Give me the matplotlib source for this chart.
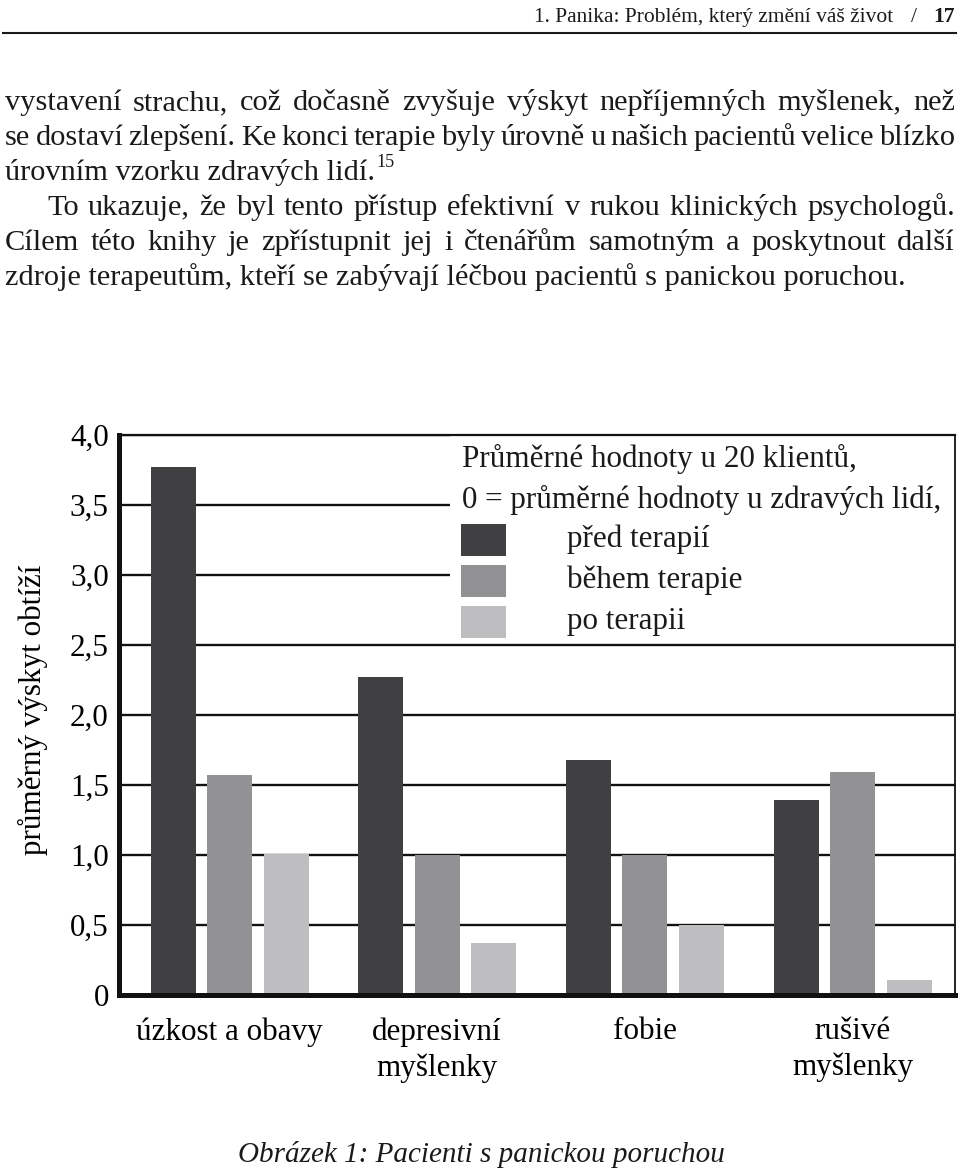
import matplotlib
matplotlib.use('Agg')
import matplotlib.pyplot as plt
import numpy as np
from matplotlib.patches import Rectangle
from matplotlib.lines import Line2D

# ---------------- data ----------------
categories = ['úzkost a obavy', 'depresivní\nmyšlenky', 'fobie', 'rušivé\nmyšlenky']
series_names = ['před terapií', 'během terapie', 'po terapii']
before_therapy = [3.77, 2.27, 1.68, 1.39]
during_therapy = [1.57, 1.00, 1.00, 1.59]
after_therapy = [1.01, 0.37, 0.50, 0.11]
ytick_values = [0, 0.5, 1.0, 1.5, 2.0, 2.5, 3.0, 3.5, 4.0]
ytick_labels = ['0', '0,5', '1,0', '1,5', '2,0', '2,5', '3,0', '3,5', '4,0']
ylabel_text = 'průměrný výskyt obtíží'
legend_title_lines = ['Průměrné hodnoty u 20 klientů,', '0 = průměrné hodnoty u zdravých lidí,']
caption_text = 'Obrázek 1: Pacienti s panickou poruchou'
header_text = '1. Panika: Problém, který změní váš život'
header_page = '17'
paragraph_lines = [
    'vystavení strachu, což dočasně zvyšuje výskyt nepříjemných myšlenek, než',
    'se dostaví zlepšení. Ke konci terapie byly úrovně u našich pacientů velice blízko',
    'úrovním vzorku zdravých lidí.',
    'To ukazuje, že byl tento přístup efektivní v rukou klinických psychologů.',
    'Cílem této knihy je zpřístupnit jej i čtenářům samotným a poskytnout další',
    'zdroje terapeutům, kteří se zabývají léčbou pacientů s panickou poruchou.',
]
footnote_mark = '15'

# ---------------- style ----------------
colors = ['#404042', '#929295', '#bebec0']
FONT = 'Liberation Serif'
plt.rcParams['font.family'] = [FONT, 'DejaVu Serif']
plt.rcParams['text.color'] = '#1a1a1a'

W, H = 960, 1172
fig = plt.figure(figsize=(W / 100, H / 100), dpi=100)
fig.patch.set_facecolor('white')
renderer = fig.canvas.get_renderer()


def fx(x):
    return x / W


def fy(y):
    return 1 - y / H


def text_width(s, **kw):
    t = fig.text(0, 0, s, **kw)
    w = t.get_window_extent(renderer=renderer).width
    t.remove()
    return w


# ---------------- header ----------------
hdr_fs = 15.5
fig.text(fx(955), fy(22), header_page, ha='right', va='baseline', fontsize=hdr_fs, fontweight='bold')
fig.text(fx(917), fy(22), '/', ha='right', va='baseline', fontsize=hdr_fs)
fig.text(fx(893), fy(22), header_text, ha='right', va='baseline', fontsize=hdr_fs)
fig.add_artist(Line2D([fx(3), fx(956)], [fy(33), fy(33)], color='#1a1a1a', lw=1.5))

# ---------------- paragraph (justified) ----------------
base_fs = 20
natural = text_width(paragraph_lines[5], fontsize=base_fs)
par_fs = base_fs * (905 - 5) / natural

line_left = [5, 5, 5, 47, 5, 5]
line_justify = [True, True, False, True, True, False]
baselines = [110, 145, 180, 215, 250, 285]
for s, x0, just, yb in zip(paragraph_lines, line_left, line_justify, baselines):
    if not just:
        fig.text(fx(x0), fy(yb), s, ha='left', va='baseline', fontsize=par_fs)
        continue
    words = s.split(' ')
    widths = [text_width(w_, fontsize=par_fs) for w_ in words]
    gap = (955 - x0 - sum(widths)) / (len(words) - 1)
    x = x0
    for w_, ww in zip(words, widths):
        fig.text(fx(x), fy(yb), w_, ha='left', va='baseline', fontsize=par_fs)
        x += ww + gap

# superscript footnote
sup_x = 5 + text_width(paragraph_lines[2], fontsize=par_fs) + 1
fig.text(fx(sup_x), fy(167), footnote_mark, ha='left', va='baseline', fontsize=par_fs * 0.6)

# ---------------- chart ----------------
left_px, right_px, top_px, bottom_px = 118.5, 955, 435, 995
ax = fig.add_axes([fx(left_px), fy(bottom_px), (right_px - left_px) / W, (bottom_px - top_px) / H])

group_px = 207.7
first_center_px = 229.5
ax.set_xlim((left_px - first_center_px) / group_px, (right_px - first_center_px) / group_px)
ax.set_ylim(0, 4)

x = np.arange(len(categories))
bar_w = 45 / group_px
offset = 56.5 / group_px
for i, (vals, c, name) in enumerate(zip([before_therapy, during_therapy, after_therapy], colors, series_names)):
    ax.bar(x + (i - 1) * offset, vals, width=bar_w, color=c, zorder=2, label=name)

chart_fs = 22.4
ax.set_yticks(ytick_values)
ax.set_yticklabels(ytick_labels, fontsize=chart_fs)
ax.set_xticks(x)
ax.set_xticklabels(categories, fontsize=chart_fs, linespacing=1.3)
ax.tick_params(axis='y', length=0, pad=7)
ax.tick_params(axis='x', length=0, pad=16)

ax.grid(axis='y', color='#111111', lw=1.7)
ax.grid(axis='x', visible=False)
ax.set_axisbelow(True)

for side, lw in [('left', 3.6), ('bottom', 3.6), ('top', 1.6), ('right', 1.3)]:
    ax.spines[side].set_linewidth(lw)
    ax.spines[side].set_color('#111111')
    ax.spines[side].set_zorder(3)

ax.set_ylabel(ylabel_text, fontsize=chart_fs)
ax.yaxis.set_label_coords((48 - left_px) / (right_px - left_px), (bottom_px - 710) / (bottom_px - top_px))

# legend area (white box covering the upper grid lines)
ax.add_patch(Rectangle((fx(450), fy(641)), fx(955) - fx(450), fy(436) - fy(641),
                       transform=fig.transFigure, facecolor='white', edgecolor='none',
                       zorder=1, clip_on=False))
fig.text(fx(462), fy(467), legend_title_lines[0], ha='left', va='baseline', fontsize=chart_fs)
fig.text(fx(462), fy(508), legend_title_lines[1], ha='left', va='baseline', fontsize=chart_fs)
patch_tops = [524, 565, 606]
for c, name, pt in zip(colors, series_names, patch_tops):
    fig.add_artist(Rectangle((fx(461), fy(pt + 32)), fx(506) - fx(461), fy(pt) - fy(pt + 32),
                             transform=fig.transFigure, facecolor=c, edgecolor='none'))
    fig.text(fx(567), fy(pt + 23), name, ha='left', va='baseline', fontsize=chart_fs)

# caption
fig.text(fx(481), fy(1162), caption_text, ha='center', va='baseline', fontsize=21, style='italic')

fig.savefig('out.png', dpi=100)
